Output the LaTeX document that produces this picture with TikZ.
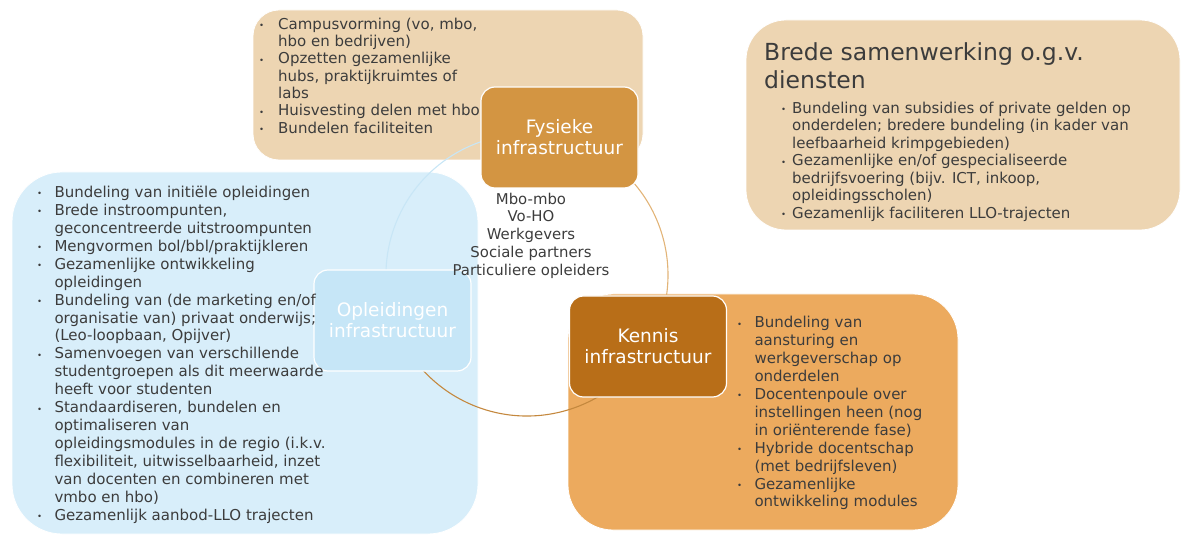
\documentclass[tikz,border=0pt]{standalone}
\usepackage{fontspec}
\setmainfont{DejaVu Sans}
\usepackage{array}
\definecolor{tanbox}{RGB}{237,213,178}
\definecolor{bluebox}{RGB}{216,238,250}
\definecolor{orangebox}{RGB}{236,170,94}
\definecolor{fysfill}{RGB}{211,149,66}
\definecolor{kenfill}{RGB}{184,110,24}
\definecolor{oplfill}{RGB}{198,230,247}
\definecolor{txt}{RGB}{60,60,60}
\definecolor{arcTan}{RGB}{226,180,120}
\definecolor{arcBrown}{RGB}{196,136,62}
\definecolor{arcBlue}{RGB}{200,230,246}
\newcommand{\bl}{\raisebox{0.6pt}{\fontsize{8.5}{8.5}\selectfont\textbullet}}
\begin{document}
\begin{tikzpicture}[x=1pt,y=-1pt,
  bigbox/.style={draw=white, line width=0.8pt, inner sep=0pt},
  catnode/.style={rounded corners=14pt, draw=white, line width=1.2pt, text=white,
    align=center, font=\fontsize{18.5}{21}\selectfont, minimum width=157pt,
    minimum height=101pt, inner sep=0pt},
  bodytext/.style={anchor=north west, inner sep=0pt, text=txt, align=left},
  ring/.style={line width=1.1pt}]
\useasboundingbox (0,0) rectangle (1181,537);
% big boxes
\node[bigbox, fill=tanbox, rounded corners=26pt, minimum width=390pt, minimum height=150pt] (topbox) at (448,85) {};
\node[bigbox, fill=tanbox, rounded corners=40pt, minimum width=434pt, minimum height=210pt] (rightbox) at (963,125) {};
\node[bigbox, fill=bluebox, rounded corners=50pt, minimum width=466pt, minimum height=362pt] (leftbox) at (245,353) {};
\node[bigbox, fill=orangebox, rounded corners=45pt, minimum width=390pt, minimum height=236pt] (orbox) at (763,412) {};
% ring
\coordinate (C) at (527,275);
\draw[ring, arcTan] (C) ++(70:141pt) arc[start angle=70, end angle=-30, radius=141pt];
\draw[ring, arcBrown] (C) ++(-30:141pt) arc[start angle=-30, end angle=-160, radius=141pt];
\draw[ring, arcBlue] (C) ++(200:141pt) arc[start angle=200, end angle=70, radius=141pt];
% category nodes
\node[catnode, fill=fysfill] (fys) at (559.5,137.5) {Fysieke\\infrastructuur};
\node[catnode, fill=oplfill] (opl) at (392.5,320.5) {Opleidingen\\infrastructuur};
\node[catnode, fill=kenfill] (ken) at (648,346.5) {Kennis\\infrastructuur};
% texts
\node[bodytext, font=\fontsize{15}{17.3}\selectfont] (toptext) at (259,16.9) {\begin{tabular}{@{}p{19pt}@{}l@{}}
\bl & Campusvorming (vo, mbo,\\
 & hbo en bedrijven)\\
\bl & Opzetten gezamenlijke\\
 & hubs, praktijkruimtes of\\
 & labs\\
\bl & Huisvesting delen met hbo\\
\bl & Bundelen faciliteiten
\end{tabular}};
\node[bodytext, font=\fontsize{23.5}{28}\selectfont] (title) at (764,40.4) {\begin{tabular}{@{}l@{}}
Brede samenwerking o.g.v.\\
diensten
\end{tabular}};
\node[bodytext, font=\fontsize{15}{17.5}\selectfont] (righttext) at (781,100.75) {\begin{tabular}{@{}p{11pt}@{}l@{}}
\bl & Bundeling van subsidies of private gelden op\\
 & onderdelen; bredere bundeling (in kader van\\
 & leefbaarheid krimpgebieden)\\
\bl & Gezamenlijke en/of gespecialiseerde\\
 & bedrijfsvoering (bijv. ICT, inkoop,\\
 & opleidingsscholen)\\
\bl & Gezamenlijk faciliteren LLO-trajecten
\end{tabular}};
\node[bodytext, font=\fontsize{15}{17.93}\selectfont] (lefttext) at (37,184.75) {\begin{tabular}{@{}p{17.3pt}@{}l@{}}
\bl & Bundeling van initiële opleidingen\\
\bl & Brede instroompunten,\\
 & geconcentreerde uitstroompunten\\
\bl & Mengvormen bol/bbl/praktijkleren\\
\bl & Gezamenlijke ontwikkeling\\
 & opleidingen\\
\bl & Bundeling van (de marketing en/of\\
 & organisatie van) privaat onderwijs;\\
 & (Leo-loopbaan, Opijver)\\
\bl & Samenvoegen van verschillende\\
 & studentgroepen als dit meerwaarde\\
 & heeft voor studenten\\
\bl & Standaardiseren, bundelen en\\
 & optimaliseren van\\
 & opleidingsmodules in de regio (i.k.v.\\
 & flexibiliteit, uitwisselbaarheid, inzet\\
 & van docenten en combineren met\\
 & vmbo en hbo)\\
\bl & Gezamenlijk aanbod-LLO trajecten
\end{tabular}};
\node[bodytext, font=\fontsize{15}{17.9}\selectfont] (ortext) at (737,315.2) {\begin{tabular}{@{}p{17.3pt}@{}l@{}}
\bl & Bundeling van\\
 & aansturing en\\
 & werkgeverschap op\\
 & onderdelen\\
\bl & Docentenpoule over\\
 & instellingen heen (nog\\
 & in oriënterende fase)\\
\bl & Hybride docentschap\\
 & (met bedrijfsleven)\\
\bl & Gezamenlijke\\
 & ontwikkeling modules
\end{tabular}};
\node[anchor=north, inner sep=0pt, text=txt, font=\fontsize{14.9}{17.75}\selectfont] (partners) at (531,191.6) {\begin{tabular}{@{}c@{}}
Mbo-mbo\\ Vo-HO\\ Werkgevers\\ Sociale partners\\ Particuliere opleiders
\end{tabular}};
\end{tikzpicture}
\end{document}
